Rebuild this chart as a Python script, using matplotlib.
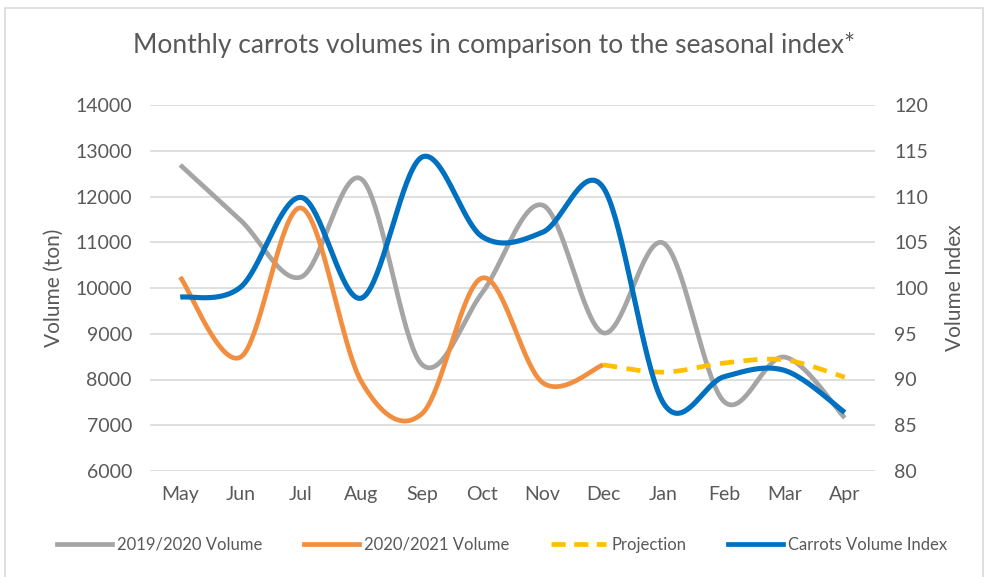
import numpy as np
import matplotlib
matplotlib.use("Agg")
import matplotlib.pyplot as plt
from matplotlib.patches import Rectangle
from matplotlib.lines import Line2D

months = ["May", "Jun", "Jul", "Aug", "Sep", "Oct", "Nov", "Dec", "Jan", "Feb", "Mar", "Apr"]
vol_2019 = [12690, 11480, 10240, 12380, 8330, 9900, 11810, 9020, 10980, 7520, 8490, 7160]
vol_2020 = [10240, 8490, 11750, 7950, 7250, 10220, 7930, 8320]
projection = [8320, 8160, 8360, 8430, 8050]
proj_start = 7
index_vals = [99.0, 100.1, 109.9, 98.9, 114.3, 105.6, 106.1, 111.0, 87.4, 90.3, 91.0, 86.4]

plt.rcParams['font.family'] = ['Lato', 'DejaVu Sans']


def smooth(xs, ys, n=40):
    xs = np.asarray(xs, float)
    ys = np.asarray(ys, float)
    P = np.column_stack([xs, ys])
    out = [P[0]]
    for i in range(len(P) - 1):
        p0 = P[i - 1] if i > 0 else P[i]
        p1 = P[i]
        p2 = P[i + 1]
        p3 = P[i + 2] if i + 2 < len(P) else P[i + 1]
        c1 = p1 + (p2 - p0) / 6.0
        c2 = p2 - (p3 - p1) / 6.0
        t = np.linspace(0, 1, n)[1:, None]
        b = ((1 - t) ** 3) * p1 + 3 * ((1 - t) ** 2) * t * c1 + 3 * (1 - t) * t ** 2 * c2 + t ** 3 * p2
        out.extend(b)
    out = np.array(out)
    return out[:, 0], out[:, 1]


W, H = 989, 577
fig = plt.figure(figsize=(W / 100, H / 100), dpi=100)
fig.patch.set_facecolor("white")
fig.patches.append(Rectangle((5 / W, -0.01), (983 - 5) / W, (577 - 8) / H + 0.01,
                             transform=fig.transFigure, fill=False,
                             edgecolor="#D9D9D9", linewidth=1.2))

ax = fig.add_axes([150 / W, (577 - 471) / H, (875 - 150) / W, (471 - 105) / H])
ax2 = ax.twinx()

x = np.arange(len(months))
gray = "#A5A5A5"
orange = "#F28E3F"
yellow = "#FFC000"
blue = "#0070C0"
lw = 3.4

sx, sy = smooth(x, vol_2019)
ax.plot(sx, sy, color=gray, lw=lw, solid_capstyle="butt", zorder=3)
sx, sy = smooth(x[:len(vol_2020)], vol_2020)
ax.plot(sx, sy, color=orange, lw=lw, solid_capstyle="butt", zorder=4)
sx, sy = smooth(x[proj_start:proj_start + len(projection)], projection)
ax.plot(sx, sy, color=yellow, lw=lw, dashes=(3, 2.0), zorder=5)
sx, sy = smooth(x, index_vals)
ax2.plot(sx, sy, color=blue, lw=3.7, solid_capstyle="butt", zorder=6)

ax.set_xlim(-0.5, 11.5)
ax.set_ylim(6000, 14000)
ax.set_yticks(np.arange(6000, 14001, 1000))
ax2.set_ylim(80, 120)
ax2.set_yticks(np.arange(80, 121, 5))
ax.set_xticks(x)
ax.set_xticklabels(months)

ax.grid(axis="y", color="#D9D9D9", lw=1.2)
ax.set_axisbelow(True)
for a in (ax, ax2):
    for s in a.spines.values():
        s.set_visible(False)
    a.tick_params(length=0, colors="#595959", labelsize=14)
ax.tick_params(axis="y", pad=13)
ax.tick_params(axis="x", pad=11)
ax2.tick_params(axis="y", pad=14)

ax.set_ylabel("Volume (ton)", fontsize=15, color="#595959", labelpad=8)
ax2.set_ylabel("Volume Index", fontsize=15, color="#595959", labelpad=12)

fig.text(0.5, 1 - 45 / H, "Monthly carrots volumes in comparison to the seasonal index*",
         ha="center", va="center", fontsize=19, color="#595959")

handles = [
    Line2D([], [], color=gray, lw=lw),
    Line2D([], [], color=orange, lw=lw),
    Line2D([], [], color=yellow, lw=lw, dashes=(3, 1.8)),
    Line2D([], [], color=blue, lw=lw),
]
labels = ["2019/2020 Volume", "2020/2021 Volume", "Projection", "Carrots Volume Index"]
fig.legend(handles, labels, loc="center", bbox_to_anchor=(0.5075, 1 - 545 / H), ncol=4,
           frameon=False, fontsize=12, labelcolor="#595959", handlelength=3.3,
           handletextpad=0.3, columnspacing=2.5)

fig.savefig("out.png", dpi=100, facecolor="white")
